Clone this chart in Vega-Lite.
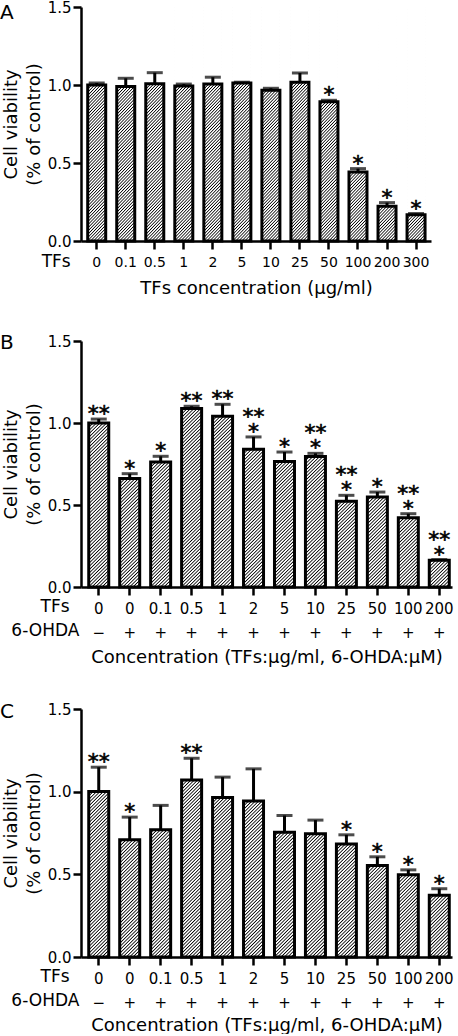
{
"$schema": "https://vega.github.io/schema/vega-lite/v6.json",
"padding": 0,
"spacing": 36,
"params": [{"name": "hatch", "value": {"gradient": "linear", "x1": 0, "y1": 0, "x2": 0.0859, "y2": 1.0731, "stops": [
{"offset":0,"color":"#000"},{"offset":0.004375,"color":"#fff"},{"offset":0.008125,"color":"#fff"},{"offset":0.0125,"color":"#000"},{"offset":0.016875,"color":"#fff"},{"offset":0.020625,"color":"#fff"},{"offset":0.025,"color":"#000"},{"offset":0.029375,"color":"#fff"},{"offset":0.033125,"color":"#fff"},{"offset":0.0375,"color":"#000"},{"offset":0.041875,"color":"#fff"},{"offset":0.045625,"color":"#fff"},{"offset":0.05,"color":"#000"},{"offset":0.054375,"color":"#fff"},{"offset":0.058125,"color":"#fff"},{"offset":0.0625,"color":"#000"},{"offset":0.066875,"color":"#fff"},{"offset":0.070625,"color":"#fff"},{"offset":0.075,"color":"#000"},{"offset":0.079375,"color":"#fff"},{"offset":0.083125,"color":"#fff"},{"offset":0.0875,"color":"#000"},{"offset":0.091875,"color":"#fff"},{"offset":0.095625,"color":"#fff"},
{"offset":0.1,"color":"#000"},{"offset":0.104375,"color":"#fff"},{"offset":0.108125,"color":"#fff"},{"offset":0.1125,"color":"#000"},{"offset":0.116875,"color":"#fff"},{"offset":0.120625,"color":"#fff"},{"offset":0.125,"color":"#000"},{"offset":0.129375,"color":"#fff"},{"offset":0.133125,"color":"#fff"},{"offset":0.1375,"color":"#000"},{"offset":0.141875,"color":"#fff"},{"offset":0.145625,"color":"#fff"},{"offset":0.15,"color":"#000"},{"offset":0.154375,"color":"#fff"},{"offset":0.158125,"color":"#fff"},{"offset":0.1625,"color":"#000"},{"offset":0.166875,"color":"#fff"},{"offset":0.170625,"color":"#fff"},{"offset":0.175,"color":"#000"},{"offset":0.179375,"color":"#fff"},{"offset":0.183125,"color":"#fff"},{"offset":0.1875,"color":"#000"},{"offset":0.191875,"color":"#fff"},{"offset":0.195625,"color":"#fff"},
{"offset":0.2,"color":"#000"},{"offset":0.204375,"color":"#fff"},{"offset":0.208125,"color":"#fff"},{"offset":0.2125,"color":"#000"},{"offset":0.216875,"color":"#fff"},{"offset":0.220625,"color":"#fff"},{"offset":0.225,"color":"#000"},{"offset":0.229375,"color":"#fff"},{"offset":0.233125,"color":"#fff"},{"offset":0.2375,"color":"#000"},{"offset":0.241875,"color":"#fff"},{"offset":0.245625,"color":"#fff"},{"offset":0.25,"color":"#000"},{"offset":0.254375,"color":"#fff"},{"offset":0.258125,"color":"#fff"},{"offset":0.2625,"color":"#000"},{"offset":0.266875,"color":"#fff"},{"offset":0.270625,"color":"#fff"},{"offset":0.275,"color":"#000"},{"offset":0.279375,"color":"#fff"},{"offset":0.283125,"color":"#fff"},{"offset":0.2875,"color":"#000"},{"offset":0.291875,"color":"#fff"},{"offset":0.295625,"color":"#fff"},
{"offset":0.3,"color":"#000"},{"offset":0.304375,"color":"#fff"},{"offset":0.308125,"color":"#fff"},{"offset":0.3125,"color":"#000"},{"offset":0.316875,"color":"#fff"},{"offset":0.320625,"color":"#fff"},{"offset":0.325,"color":"#000"},{"offset":0.329375,"color":"#fff"},{"offset":0.333125,"color":"#fff"},{"offset":0.3375,"color":"#000"},{"offset":0.341875,"color":"#fff"},{"offset":0.345625,"color":"#fff"},{"offset":0.35,"color":"#000"},{"offset":0.354375,"color":"#fff"},{"offset":0.358125,"color":"#fff"},{"offset":0.3625,"color":"#000"},{"offset":0.366875,"color":"#fff"},{"offset":0.370625,"color":"#fff"},{"offset":0.375,"color":"#000"},{"offset":0.379375,"color":"#fff"},{"offset":0.383125,"color":"#fff"},{"offset":0.3875,"color":"#000"},{"offset":0.391875,"color":"#fff"},{"offset":0.395625,"color":"#fff"},
{"offset":0.4,"color":"#000"},{"offset":0.404375,"color":"#fff"},{"offset":0.408125,"color":"#fff"},{"offset":0.4125,"color":"#000"},{"offset":0.416875,"color":"#fff"},{"offset":0.420625,"color":"#fff"},{"offset":0.425,"color":"#000"},{"offset":0.429375,"color":"#fff"},{"offset":0.433125,"color":"#fff"},{"offset":0.4375,"color":"#000"},{"offset":0.441875,"color":"#fff"},{"offset":0.445625,"color":"#fff"},{"offset":0.45,"color":"#000"},{"offset":0.454375,"color":"#fff"},{"offset":0.458125,"color":"#fff"},{"offset":0.4625,"color":"#000"},{"offset":0.466875,"color":"#fff"},{"offset":0.470625,"color":"#fff"},{"offset":0.475,"color":"#000"},{"offset":0.479375,"color":"#fff"},{"offset":0.483125,"color":"#fff"},{"offset":0.4875,"color":"#000"},{"offset":0.491875,"color":"#fff"},{"offset":0.495625,"color":"#fff"},
{"offset":0.5,"color":"#000"},{"offset":0.504375,"color":"#fff"},{"offset":0.508125,"color":"#fff"},{"offset":0.5125,"color":"#000"},{"offset":0.516875,"color":"#fff"},{"offset":0.520625,"color":"#fff"},{"offset":0.525,"color":"#000"},{"offset":0.529375,"color":"#fff"},{"offset":0.533125,"color":"#fff"},{"offset":0.5375,"color":"#000"},{"offset":0.541875,"color":"#fff"},{"offset":0.545625,"color":"#fff"},{"offset":0.55,"color":"#000"},{"offset":0.554375,"color":"#fff"},{"offset":0.558125,"color":"#fff"},{"offset":0.5625,"color":"#000"},{"offset":0.566875,"color":"#fff"},{"offset":0.570625,"color":"#fff"},{"offset":0.575,"color":"#000"},{"offset":0.579375,"color":"#fff"},{"offset":0.583125,"color":"#fff"},{"offset":0.5875,"color":"#000"},{"offset":0.591875,"color":"#fff"},{"offset":0.595625,"color":"#fff"},
{"offset":0.6,"color":"#000"},{"offset":0.604375,"color":"#fff"},{"offset":0.608125,"color":"#fff"},{"offset":0.6125,"color":"#000"},{"offset":0.616875,"color":"#fff"},{"offset":0.620625,"color":"#fff"},{"offset":0.625,"color":"#000"},{"offset":0.629375,"color":"#fff"},{"offset":0.633125,"color":"#fff"},{"offset":0.6375,"color":"#000"},{"offset":0.641875,"color":"#fff"},{"offset":0.645625,"color":"#fff"},{"offset":0.65,"color":"#000"},{"offset":0.654375,"color":"#fff"},{"offset":0.658125,"color":"#fff"},{"offset":0.6625,"color":"#000"},{"offset":0.666875,"color":"#fff"},{"offset":0.670625,"color":"#fff"},{"offset":0.675,"color":"#000"},{"offset":0.679375,"color":"#fff"},{"offset":0.683125,"color":"#fff"},{"offset":0.6875,"color":"#000"},{"offset":0.691875,"color":"#fff"},{"offset":0.695625,"color":"#fff"},
{"offset":0.7,"color":"#000"},{"offset":0.704375,"color":"#fff"},{"offset":0.708125,"color":"#fff"},{"offset":0.7125,"color":"#000"},{"offset":0.716875,"color":"#fff"},{"offset":0.720625,"color":"#fff"},{"offset":0.725,"color":"#000"},{"offset":0.729375,"color":"#fff"},{"offset":0.733125,"color":"#fff"},{"offset":0.7375,"color":"#000"},{"offset":0.741875,"color":"#fff"},{"offset":0.745625,"color":"#fff"},{"offset":0.75,"color":"#000"},{"offset":0.754375,"color":"#fff"},{"offset":0.758125,"color":"#fff"},{"offset":0.7625,"color":"#000"},{"offset":0.766875,"color":"#fff"},{"offset":0.770625,"color":"#fff"},{"offset":0.775,"color":"#000"},{"offset":0.779375,"color":"#fff"},{"offset":0.783125,"color":"#fff"},{"offset":0.7875,"color":"#000"},{"offset":0.791875,"color":"#fff"},{"offset":0.795625,"color":"#fff"},
{"offset":0.8,"color":"#000"},{"offset":0.804375,"color":"#fff"},{"offset":0.808125,"color":"#fff"},{"offset":0.8125,"color":"#000"},{"offset":0.816875,"color":"#fff"},{"offset":0.820625,"color":"#fff"},{"offset":0.825,"color":"#000"},{"offset":0.829375,"color":"#fff"},{"offset":0.833125,"color":"#fff"},{"offset":0.8375,"color":"#000"},{"offset":0.841875,"color":"#fff"},{"offset":0.845625,"color":"#fff"},{"offset":0.85,"color":"#000"},{"offset":0.854375,"color":"#fff"},{"offset":0.858125,"color":"#fff"},{"offset":0.8625,"color":"#000"},{"offset":0.866875,"color":"#fff"},{"offset":0.870625,"color":"#fff"},{"offset":0.875,"color":"#000"},{"offset":0.879375,"color":"#fff"},{"offset":0.883125,"color":"#fff"},{"offset":0.8875,"color":"#000"},{"offset":0.891875,"color":"#fff"},{"offset":0.895625,"color":"#fff"},
{"offset":0.9,"color":"#000"},{"offset":0.904375,"color":"#fff"},{"offset":0.908125,"color":"#fff"},{"offset":0.9125,"color":"#000"},{"offset":0.916875,"color":"#fff"},{"offset":0.920625,"color":"#fff"},{"offset":0.925,"color":"#000"},{"offset":0.929375,"color":"#fff"},{"offset":0.933125,"color":"#fff"},{"offset":0.9375,"color":"#000"},{"offset":0.941875,"color":"#fff"},{"offset":0.945625,"color":"#fff"},{"offset":0.95,"color":"#000"},{"offset":0.954375,"color":"#fff"},{"offset":0.958125,"color":"#fff"},{"offset":0.9625,"color":"#000"},{"offset":0.966875,"color":"#fff"},{"offset":0.970625,"color":"#fff"},{"offset":0.975,"color":"#000"},{"offset":0.979375,"color":"#fff"},{"offset":0.983125,"color":"#fff"},{"offset":0.9875,"color":"#000"},{"offset":0.991875,"color":"#fff"},{"offset":0.995625,"color":"#fff"},
{"offset":1,"color":"#000"}
]}}],
"datasets": {
"a": [
{"key":"0","mean":1.0,"hi":1.013,"lo":"","up":""},
{"key":"0.1","mean":0.99,"hi":1.043,"lo":"","up":""},
{"key":"0.5","mean":1.008,"hi":1.079,"lo":"","up":""},
{"key":"1","mean":0.994,"hi":1.006,"lo":"","up":""},
{"key":"2","mean":1.006,"hi":1.05,"lo":"","up":""},
{"key":"5","mean":1.013,"hi":1.018,"lo":"","up":""},
{"key":"10","mean":0.966,"hi":0.979,"lo":"","up":""},
{"key":"25","mean":1.017,"hi":1.077,"lo":"","up":""},
{"key":"50","mean":0.893,"hi":0.902,"lo":"*","up":""},
{"key":"100","mean":0.442,"hi":0.464,"lo":"*","up":""},
{"key":"200","mean":0.222,"hi":0.246,"lo":"*","up":""},
{"key":"300","mean":0.169,"hi":0.176,"lo":"*","up":""}
],
"b": [
{"key":"0|−","mean":1.0,"hi":1.024,"lo":"**","up":""},
{"key":"0|+","mean":0.661,"hi":0.691,"lo":"*","up":""},
{"key":"0.1|+","mean":0.762,"hi":0.797,"lo":"*","up":""},
{"key":"0.5|+","mean":1.088,"hi":1.102,"lo":"**","up":""},
{"key":"1|+","mean":1.041,"hi":1.114,"lo":"**","up":""},
{"key":"2|+","mean":0.84,"hi":0.915,"lo":"*","up":"**"},
{"key":"5|+","mean":0.765,"hi":0.823,"lo":"*","up":""},
{"key":"10|+","mean":0.795,"hi":0.815,"lo":"*","up":"**"},
{"key":"25|+","mean":0.523,"hi":0.559,"lo":"*","up":"**"},
{"key":"50|+","mean":0.549,"hi":0.579,"lo":"*","up":""},
{"key":"100|+","mean":0.423,"hi":0.447,"lo":"*","up":"**"},
{"key":"200|+","mean":0.163,"hi":0.167,"lo":"*","up":"**"}
],
"c": [
{"key":"0|−","mean":1.001,"hi":1.148,"lo":"**","up":""},
{"key":"0|+","mean":0.709,"hi":0.846,"lo":"*","up":""},
{"key":"0.1|+","mean":0.769,"hi":0.917,"lo":"","up":""},
{"key":"0.5|+","mean":1.071,"hi":1.202,"lo":"**","up":""},
{"key":"1|+","mean":0.965,"hi":1.088,"lo":"","up":""},
{"key":"2|+","mean":0.944,"hi":1.138,"lo":"","up":""},
{"key":"5|+","mean":0.755,"hi":0.856,"lo":"","up":""},
{"key":"10|+","mean":0.745,"hi":0.828,"lo":"","up":""},
{"key":"25|+","mean":0.683,"hi":0.739,"lo":"*","up":""},
{"key":"50|+","mean":0.554,"hi":0.606,"lo":"*","up":""},
{"key":"100|+","mean":0.497,"hi":0.527,"lo":"*","up":""},
{"key":"200|+","mean":0.373,"hi":0.413,"lo":"*","up":""}
]
},
"config": {
"font": "DejaVu Sans",
"view": {"stroke": null},
"axis": {"zindex": 1, "domain": true, "ticks": true, "domainColor": "#000", "domainWidth": 2.5, "tickColor": "#000", "tickWidth": 2.5, "tickSize": 8, "labelColor": "#000", "titleColor": "#000", "labelFontSize": 15, "titleFontSize": 18, "titleFontWeight": "normal", "grid": false, "labelFont": "DejaVu Sans", "titleFont": "DejaVu Sans"}
},
"vconcat": [
{
"width": 350, "height": 234,
"data": {"name": "a"},
"encoding": {
"x": {"field": "key", "type": "nominal", "sort": null, "scale": {"paddingInner": 0.38, "paddingOuter": 0.218, "align": 0.53}, "axis": {"title": "TFs concentration (μg/ml)", "labelAngle": 0, "labelFontSize": 14, "labelPadding": 6, "titlePadding": 10, "labelOverlap": false}}
},
"layer": [
{"mark": {"type": "bar", "fill": {"expr": "hatch"}, "stroke": null, "strokeWidth": 0}, "encoding": {"y": {"datum": 1.5, "type": "quantitative", "scale": {"domain": [0, 1.5], "nice": false}, "axis": {"values": [0, 0.5, 1, 1.5], "format": ".1f", "title": ["Cell viability", "(% of control)"], "titleLineHeight": 22.5, "titlePadding": 4, "labelPadding": 2}}}},
{"mark": {"type": "bar", "fill": "#fff", "stroke": "#fff", "strokeWidth": 1.5}, "encoding": {"y": {"field": "mean", "type": "quantitative", "scale": {"domain": [0, 1.5], "nice": false}, "axis": {"values": [0, 0.5, 1, 1.5], "format": ".1f", "title": ["Cell viability", "(% of control)"], "titleLineHeight": 22.5, "titlePadding": 4, "labelPadding": 2}}, "y2": {"datum": 1.5}}},
{"mark": {"type": "bar", "fill": "#fff", "fillOpacity": 0, "stroke": "#000", "strokeWidth": 3}, "encoding": {"y": {"field": "mean", "type": "quantitative", "scale": {"domain": [0, 1.5], "nice": false}, "axis": {"values": [0, 0.5, 1, 1.5], "format": ".1f", "title": ["Cell viability", "(% of control)"], "titleLineHeight": 22.5, "titlePadding": 4, "labelPadding": 2}}}},
{"mark": {"type": "rule", "color": "#000", "strokeWidth": 3}, "encoding": {"y": {"field": "mean", "type": "quantitative", "scale": {"domain": [0, 1.5], "nice": false}, "axis": {"values": [0, 0.5, 1, 1.5], "format": ".1f", "title": ["Cell viability", "(% of control)"], "titleLineHeight": 22.5, "titlePadding": 4, "labelPadding": 2}}, "y2": {"field": "hi"}}},
{"mark": {"type": "tick", "color": "#000", "thickness": 3, "size": 16}, "encoding": {"y": {"field": "hi", "type": "quantitative", "scale": {"domain": [0, 1.5], "nice": false}, "axis": {"values": [0, 0.5, 1, 1.5], "format": ".1f", "title": ["Cell viability", "(% of control)"], "titleLineHeight": 22.5, "titlePadding": 4, "labelPadding": 2}}}},
{"mark": {"type": "text", "fill": "#000", "stroke": "#000", "strokeWidth": 0.6, "fontSize": 22, "baseline": "bottom", "dy": 7}, "encoding": {"y": {"field": "hi", "type": "quantitative", "scale": {"domain": [0, 1.5], "nice": false}, "axis": {"values": [0, 0.5, 1, 1.5], "format": ".1f", "title": ["Cell viability", "(% of control)"], "titleLineHeight": 22.5, "titlePadding": 4, "labelPadding": 2}}, "text": {"field": "lo"}}},
{"transform": [{"filter": "datum.key === '0'"}], "mark": {"type": "text", "text": "A", "color": "#000", "fontSize": 20, "align": "left", "baseline": "middle", "dx": -96.7, "dy": 5.5}, "encoding": {"y": {"datum": 1.5, "type": "quantitative", "scale": {"domain": [0, 1.5], "nice": false}, "axis": {"values": [0, 0.5, 1, 1.5], "format": ".1f", "title": ["Cell viability", "(% of control)"], "titleLineHeight": 22.5, "titlePadding": 4, "labelPadding": 2}}}},
{"transform": [{"filter": "datum.key === '0'"}], "mark": {"type": "text", "text": "TFs", "color": "#000", "fontSize": 17, "align": "right", "baseline": "middle", "dx": -26, "dy": 20.5}, "encoding": {"y": {"datum": 0, "type": "quantitative", "scale": {"domain": [0, 1.5], "nice": false}, "axis": {"values": [0, 0.5, 1, 1.5], "format": ".1f", "title": ["Cell viability", "(% of control)"], "titleLineHeight": 22.5, "titlePadding": 4, "labelPadding": 2}}}}
]
},
{
"width": 371, "height": 246,
"data": {"name": "b"},
"encoding": {
"x": {"field": "key", "type": "nominal", "sort": null, "scale": {"paddingInner": 0.354, "paddingOuter": 0.169, "align": 0.74}, "axis": {"title": "Concentration (TFs:μg/ml, 6-OHDA:μM)", "labelExpr": "split(datum.value, '|')", "labelLineHeight": 24, "labelAngle": 0, "labelPadding": 6, "titlePadding": 8, "labelOverlap": false}}
},
"layer": [
{"mark": {"type": "bar", "fill": {"expr": "hatch"}, "stroke": null, "strokeWidth": 0}, "encoding": {"y": {"datum": 1.5, "type": "quantitative", "scale": {"domain": [0, 1.5], "nice": false}, "axis": {"values": [0, 0.5, 1, 1.5], "format": ".1f", "title": ["Cell viability", "(% of control)"], "titleLineHeight": 22.5, "titlePadding": 4, "labelPadding": 2}}}},
{"mark": {"type": "bar", "fill": "#fff", "stroke": "#fff", "strokeWidth": 1.5}, "encoding": {"y": {"field": "mean", "type": "quantitative", "scale": {"domain": [0, 1.5], "nice": false}, "axis": {"values": [0, 0.5, 1, 1.5], "format": ".1f", "title": ["Cell viability", "(% of control)"], "titleLineHeight": 22.5, "titlePadding": 4, "labelPadding": 2}}, "y2": {"datum": 1.5}}},
{"mark": {"type": "bar", "fill": "#fff", "fillOpacity": 0, "stroke": "#000", "strokeWidth": 3}, "encoding": {"y": {"field": "mean", "type": "quantitative", "scale": {"domain": [0, 1.5], "nice": false}, "axis": {"values": [0, 0.5, 1, 1.5], "format": ".1f", "title": ["Cell viability", "(% of control)"], "titleLineHeight": 22.5, "titlePadding": 4, "labelPadding": 2}}}},
{"mark": {"type": "rule", "color": "#000", "strokeWidth": 3}, "encoding": {"y": {"field": "mean", "type": "quantitative", "scale": {"domain": [0, 1.5], "nice": false}, "axis": {"values": [0, 0.5, 1, 1.5], "format": ".1f", "title": ["Cell viability", "(% of control)"], "titleLineHeight": 22.5, "titlePadding": 4, "labelPadding": 2}}, "y2": {"field": "hi"}}},
{"mark": {"type": "tick", "color": "#000", "thickness": 3, "size": 16}, "encoding": {"y": {"field": "hi", "type": "quantitative", "scale": {"domain": [0, 1.5], "nice": false}, "axis": {"values": [0, 0.5, 1, 1.5], "format": ".1f", "title": ["Cell viability", "(% of control)"], "titleLineHeight": 22.5, "titlePadding": 4, "labelPadding": 2}}}},
{"mark": {"type": "text", "fill": "#000", "stroke": "#000", "strokeWidth": 0.6, "fontSize": 22, "baseline": "bottom", "dy": 7}, "encoding": {"y": {"field": "hi", "type": "quantitative", "scale": {"domain": [0, 1.5], "nice": false}, "axis": {"values": [0, 0.5, 1, 1.5], "format": ".1f", "title": ["Cell viability", "(% of control)"], "titleLineHeight": 22.5, "titlePadding": 4, "labelPadding": 2}}, "text": {"field": "lo"}}},
{"mark": {"type": "text", "fill": "#000", "stroke": "#000", "strokeWidth": 0.6, "fontSize": 22, "baseline": "bottom", "dy": -8}, "encoding": {"y": {"field": "hi", "type": "quantitative", "scale": {"domain": [0, 1.5], "nice": false}, "axis": {"values": [0, 0.5, 1, 1.5], "format": ".1f", "title": ["Cell viability", "(% of control)"], "titleLineHeight": 22.5, "titlePadding": 4, "labelPadding": 2}}, "text": {"field": "up"}}},
{"transform": [{"filter": "datum.key === '0|−'"}], "mark": {"type": "text", "text": "B", "color": "#000", "fontSize": 20, "align": "left", "baseline": "middle", "dx": -98.7, "dy": 2}, "encoding": {"y": {"datum": 1.5, "type": "quantitative", "scale": {"domain": [0, 1.5], "nice": false}, "axis": {"values": [0, 0.5, 1, 1.5], "format": ".1f", "title": ["Cell viability", "(% of control)"], "titleLineHeight": 22.5, "titlePadding": 4, "labelPadding": 2}}}},
{"transform": [{"filter": "datum.key === '0|−'"}], "mark": {"type": "text", "text": "TFs", "color": "#000", "fontSize": 17, "align": "right", "baseline": "middle", "dx": -29.2, "dy": 20}, "encoding": {"y": {"datum": 0, "type": "quantitative", "scale": {"domain": [0, 1.5], "nice": false}, "axis": {"values": [0, 0.5, 1, 1.5], "format": ".1f", "title": ["Cell viability", "(% of control)"], "titleLineHeight": 22.5, "titlePadding": 4, "labelPadding": 2}}}},
{"transform": [{"filter": "datum.key === '0|−'"}], "mark": {"type": "text", "text": "6-OHDA", "color": "#000", "fontSize": 17, "align": "right", "baseline": "middle", "dx": -19.4, "dy": 44.3}, "encoding": {"y": {"datum": 0, "type": "quantitative", "scale": {"domain": [0, 1.5], "nice": false}, "axis": {"values": [0, 0.5, 1, 1.5], "format": ".1f", "title": ["Cell viability", "(% of control)"], "titleLineHeight": 22.5, "titlePadding": 4, "labelPadding": 2}}}}
]
},
{
"width": 371, "height": 248,
"data": {"name": "c"},
"encoding": {
"x": {"field": "key", "type": "nominal", "sort": null, "scale": {"paddingInner": 0.354, "paddingOuter": 0.169, "align": 0.74}, "axis": {"title": "Concentration (TFs:μg/ml, 6-OHDA:μM)", "labelExpr": "split(datum.value, '|')", "labelLineHeight": 24, "labelAngle": 0, "labelPadding": 6, "titlePadding": 6, "labelOverlap": false}}
},
"layer": [
{"mark": {"type": "bar", "fill": {"expr": "hatch"}, "stroke": null, "strokeWidth": 0}, "encoding": {"y": {"datum": 1.5, "type": "quantitative", "scale": {"domain": [0, 1.5], "nice": false}, "axis": {"values": [0, 0.5, 1, 1.5], "format": ".1f", "title": ["Cell viability", "(% of control)"], "titleLineHeight": 22.5, "titlePadding": 4, "labelPadding": 2}}}},
{"mark": {"type": "bar", "fill": "#fff", "stroke": "#fff", "strokeWidth": 1.5}, "encoding": {"y": {"field": "mean", "type": "quantitative", "scale": {"domain": [0, 1.5], "nice": false}, "axis": {"values": [0, 0.5, 1, 1.5], "format": ".1f", "title": ["Cell viability", "(% of control)"], "titleLineHeight": 22.5, "titlePadding": 4, "labelPadding": 2}}, "y2": {"datum": 1.5}}},
{"mark": {"type": "bar", "fill": "#fff", "fillOpacity": 0, "stroke": "#000", "strokeWidth": 3}, "encoding": {"y": {"field": "mean", "type": "quantitative", "scale": {"domain": [0, 1.5], "nice": false}, "axis": {"values": [0, 0.5, 1, 1.5], "format": ".1f", "title": ["Cell viability", "(% of control)"], "titleLineHeight": 22.5, "titlePadding": 4, "labelPadding": 2}}}},
{"mark": {"type": "rule", "color": "#000", "strokeWidth": 3}, "encoding": {"y": {"field": "mean", "type": "quantitative", "scale": {"domain": [0, 1.5], "nice": false}, "axis": {"values": [0, 0.5, 1, 1.5], "format": ".1f", "title": ["Cell viability", "(% of control)"], "titleLineHeight": 22.5, "titlePadding": 4, "labelPadding": 2}}, "y2": {"field": "hi"}}},
{"mark": {"type": "tick", "color": "#000", "thickness": 3, "size": 16}, "encoding": {"y": {"field": "hi", "type": "quantitative", "scale": {"domain": [0, 1.5], "nice": false}, "axis": {"values": [0, 0.5, 1, 1.5], "format": ".1f", "title": ["Cell viability", "(% of control)"], "titleLineHeight": 22.5, "titlePadding": 4, "labelPadding": 2}}}},
{"mark": {"type": "text", "fill": "#000", "stroke": "#000", "strokeWidth": 0.6, "fontSize": 22, "baseline": "bottom", "dy": 7}, "encoding": {"y": {"field": "hi", "type": "quantitative", "scale": {"domain": [0, 1.5], "nice": false}, "axis": {"values": [0, 0.5, 1, 1.5], "format": ".1f", "title": ["Cell viability", "(% of control)"], "titleLineHeight": 22.5, "titlePadding": 4, "labelPadding": 2}}, "text": {"field": "lo"}}},
{"transform": [{"filter": "datum.key === '0|−'"}], "mark": {"type": "text", "text": "C", "color": "#000", "fontSize": 20, "align": "left", "baseline": "middle", "dx": -98.7, "dy": 3}, "encoding": {"y": {"datum": 1.5, "type": "quantitative", "scale": {"domain": [0, 1.5], "nice": false}, "axis": {"values": [0, 0.5, 1, 1.5], "format": ".1f", "title": ["Cell viability", "(% of control)"], "titleLineHeight": 22.5, "titlePadding": 4, "labelPadding": 2}}}},
{"transform": [{"filter": "datum.key === '0|−'"}], "mark": {"type": "text", "text": "TFs", "color": "#000", "fontSize": 17, "align": "right", "baseline": "middle", "dx": -29.2, "dy": 20}, "encoding": {"y": {"datum": 0, "type": "quantitative", "scale": {"domain": [0, 1.5], "nice": false}, "axis": {"values": [0, 0.5, 1, 1.5], "format": ".1f", "title": ["Cell viability", "(% of control)"], "titleLineHeight": 22.5, "titlePadding": 4, "labelPadding": 2}}}},
{"transform": [{"filter": "datum.key === '0|−'"}], "mark": {"type": "text", "text": "6-OHDA", "color": "#000", "fontSize": 17, "align": "right", "baseline": "middle", "dx": -19.4, "dy": 44.3}, "encoding": {"y": {"datum": 0, "type": "quantitative", "scale": {"domain": [0, 1.5], "nice": false}, "axis": {"values": [0, 0.5, 1, 1.5], "format": ".1f", "title": ["Cell viability", "(% of control)"], "titleLineHeight": 22.5, "titlePadding": 4, "labelPadding": 2}}}}
]
}
]
}
